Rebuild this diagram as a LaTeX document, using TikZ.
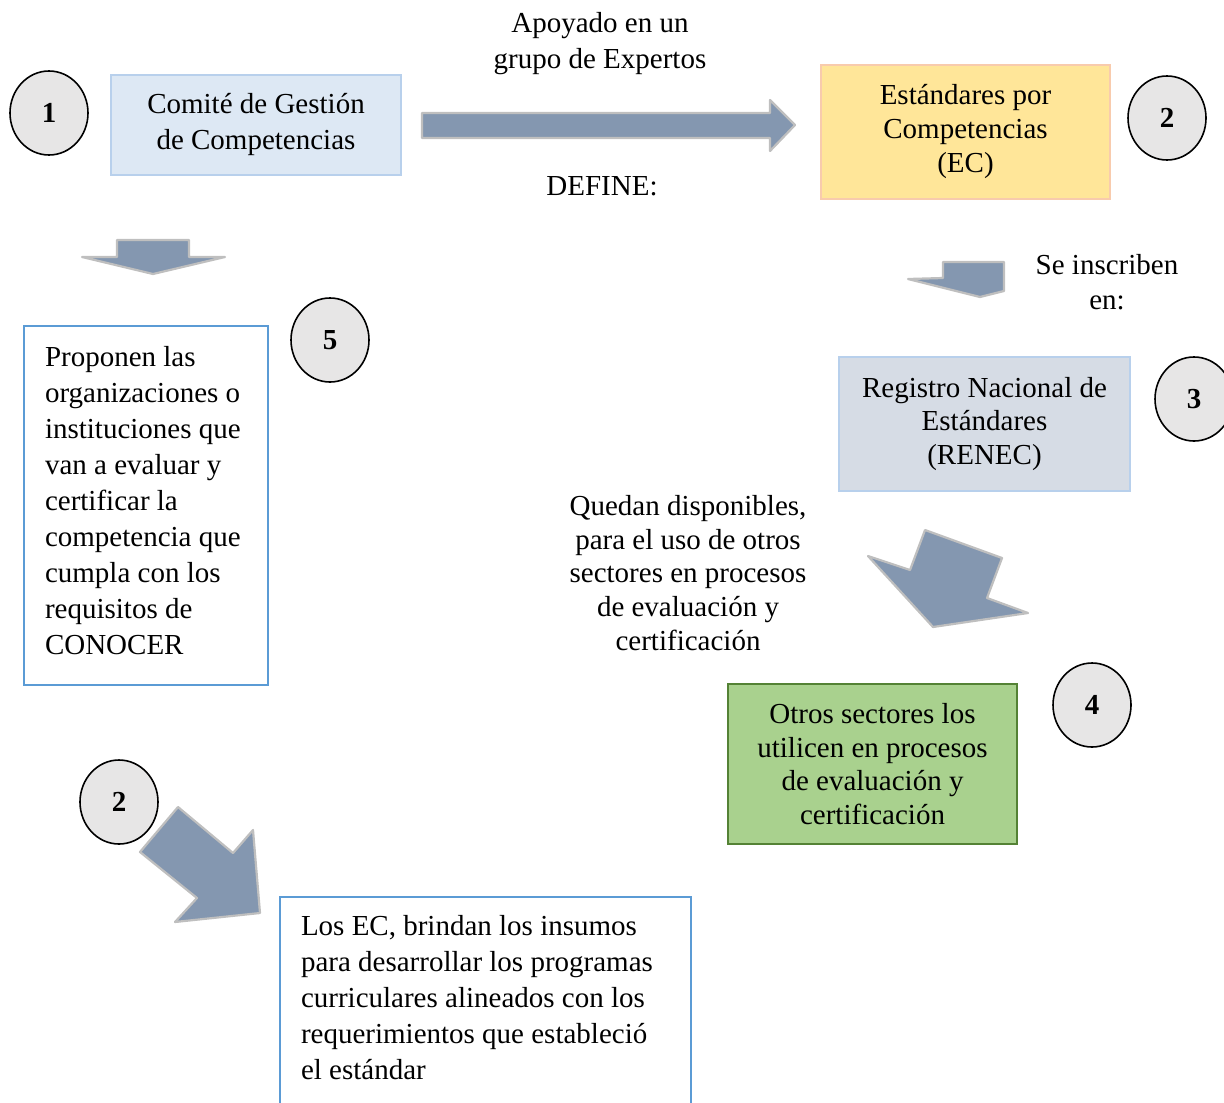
\documentclass[tikz,border=0pt]{standalone}
\usepackage{fontspec}
\setmainfont{Liberation Serif}
\usetikzlibrary{shapes.geometric}

\definecolor{flecha}{HTML}{8497B0}
\definecolor{bordeflecha}{HTML}{BFBFBF}
\definecolor{circulo}{HTML}{E7E6E6}
\definecolor{azulclaro}{HTML}{DDE8F4}
\definecolor{bordeazulclaro}{HTML}{B8D0EC}
\definecolor{amarillo}{HTML}{FFE699}
\definecolor{bordeamarillo}{HTML}{F8CBAD}
\definecolor{grisazul}{HTML}{D6DCE5}
\definecolor{verde}{HTML}{A9D18E}
\definecolor{bordeverde}{HTML}{548235}
\definecolor{bordeazul}{HTML}{5B9BD5}

\tikzset{
	numero/.style={ellipse, draw=black, line width=0.8pt, fill=circulo, minimum width=39pt, minimum height=42pt, inner sep=0pt, font=\fontsize{14.5}{18}\selectfont\bfseries},
	caja/.style={rectangle, line width=1.2pt, inner sep=0pt, font=\fontsize{14.5}{18}\selectfont},
	flechabloque/.style={fill=flecha, draw=bordeflecha, line width=1.1pt, line join=round},
	texto/.style={align=center, inner sep=0pt, font=\fontsize{14.5}{18}\selectfont}
}

\begin{document}
\begin{tikzpicture}[x=0.5pt, y=-0.5pt]
			%%%%% START %%%%%
			\useasboundingbox (0,0) rectangle (1224,1102);
			
			% cajas
			\node[caja, draw=bordeazulclaro, fill=azulclaro, minimum width=145pt, minimum height=50pt, align=center] (comite) at (256,125) {Comité de Gestión\\de Competencias};
			\node[caja, draw=bordeamarillo, fill=amarillo, minimum width=144.5pt, minimum height=67pt, align=center, font=\fontsize{14.5}{17}\selectfont] (estandares) at (965.5,132) {Estándares por\\Competencias\\(EC)};
			\node[caja, draw=bordeazulclaro, fill=grisazul, minimum width=145.5pt, minimum height=67pt, align=center, font=\fontsize{14.5}{16.6}\selectfont] (renec) at (984.5,424) {Registro Nacional de\\Estándares\\(RENEC)};
			\node[caja, draw=bordeverde, fill=verde, minimum width=144.5pt, minimum height=80pt, align=center, font=\fontsize{14.5}{16.8}\selectfont] (otros) at (872.5,764) {Otros sectores los\\utilicen en procesos\\de evaluación y\\certificación};
			\node[caja, draw=bordeazul, fill=white, minimum width=122pt, minimum height=179.5pt, text width=101pt, align=flush left] (proponen) at (146,505.5) {Proponen las\\organizaciones o\\instituciones que\\van a evaluar y\\certificar la\\competencia que\\cumpla con los\\requisitos de\\CONOCER\vspace{5pt}};
			\node[caja, draw=bordeazul, fill=white, minimum width=205.5pt, minimum height=104.5pt, text width=184.5pt, align=flush left] (insumos) at (485.5,1001.5) {Los EC, brindan los insumos\\para desarrollar los programas\\curriculares alineados con los\\requerimientos que estableció\\el estándar\vspace{4pt}};
			
			% circulos
			\node[numero] (n1) at (49,113) {1};
			\node[numero] (n2) at (1167,118) {2};
			\node[numero] (n3) at (1194,399) {3};
			\node[numero] (n4) at (1092,705) {4};
			\node[numero] (n5) at (330,340) {5};
			\node[numero] (n2b) at (119,802) {2};
			
			% textos
			\node[texto] (apoyado) at (600,44) {Apoyado en un\\grupo de Expertos};
			\node[texto] (define) at (602,186) {DEFINE:};
			\node[texto, font=\fontsize{14.5}{17.5}\selectfont] (inscriben) at (1107,282) {Se inscriben\\en:};
			\node[texto, font=\fontsize{14.5}{16.8}\selectfont] (quedan) at (688,573) {Quedan disponibles,\\para el uso de otros\\sectores en procesos\\de evaluación y\\certificación};
			
			% flechas
			\draw[flechabloque] (422,113) -- (770,113) -- (770,100) -- (795,125) -- (770,151) -- (770,138) -- (422,138) -- cycle;
			\draw[flechabloque] (117,240) -- (189,240) -- (189,257) -- (225,257) -- (153,274) -- (82,257) -- (117,257) -- cycle;
			\draw[flechabloque] (943,262) -- (1004,262) -- (1004,291) -- (980,297) -- (908,279) -- (943,278) -- cycle;
			\draw[flechabloque] (925,530) -- (1002,558) -- (987,598) -- (1028,613) -- (933,627) -- (868,556) -- (910,570) -- cycle;
			\draw[flechabloque] (178,807) -- (233,853) -- (253,830) -- (260,913) -- (175,922) -- (197,898) -- (140,852) -- cycle;
			
			%%%%% END %%%%%
\end{tikzpicture}
\end{document}
